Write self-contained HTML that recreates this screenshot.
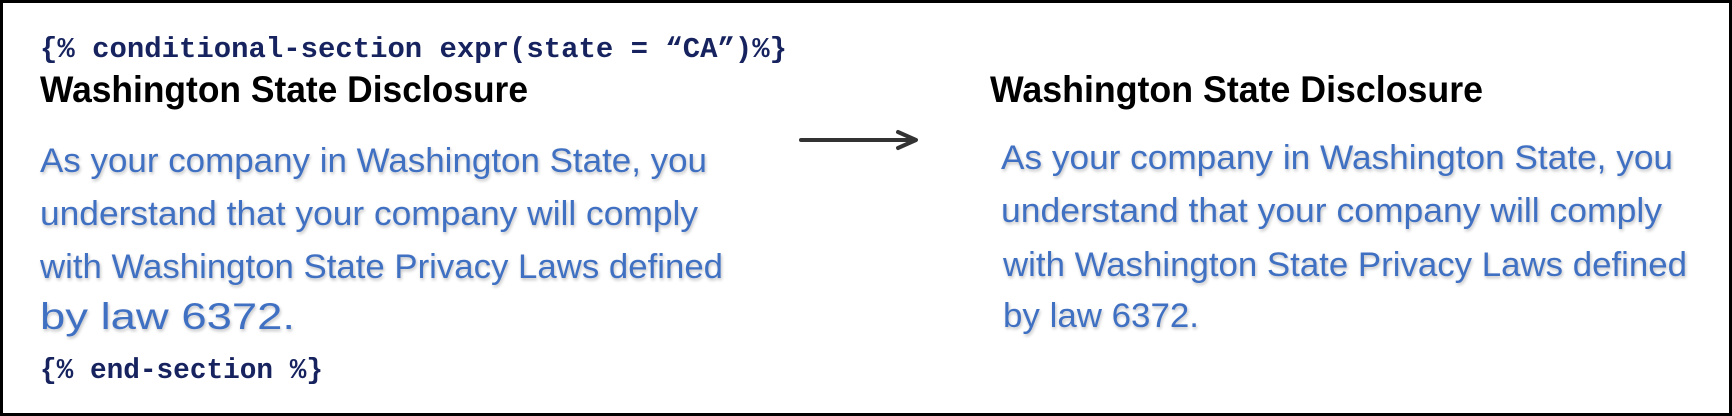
<!DOCTYPE html>
<html><head><meta charset="utf-8"><style>
html,body{margin:0;padding:0;background:#fff;}
svg{display:block;}
.code{font-family:"Liberation Mono",monospace;font-weight:bold;font-size:29px;fill:#16235e;}
.h{font-family:"Liberation Sans",sans-serif;font-weight:bold;font-size:37px;fill:#000;}
.b{font-family:"Liberation Sans",sans-serif;font-size:34px;fill:#4170C2;filter:url(#sh);}
</style></head><body>
<svg width="1732" height="416" viewBox="0 0 1732 416" xmlns="http://www.w3.org/2000/svg">
<defs><filter id="sh" x="-5%" y="-30%" width="110%" height="160%"><feGaussianBlur in="SourceAlpha" stdDeviation="1.5"/><feOffset dx="1" dy="2"/><feComponentTransfer><feFuncA type="linear" slope="0.25"/></feComponentTransfer><feMerge><feMergeNode/><feMergeNode in="SourceGraphic"/></feMerge></filter></defs>
<rect x="1.5" y="1.5" width="1729" height="413" fill="#fff" stroke="#000" stroke-width="3"/>
<text class="code" x="40" y="57" textLength="747" lengthAdjust="spacingAndGlyphs">{% conditional-section expr(state = “CA”)%}</text>
<text class="h" x="40" y="102" textLength="488" lengthAdjust="spacingAndGlyphs">Washington State Disclosure</text>
<text class="b" x="40" y="172" textLength="667" lengthAdjust="spacingAndGlyphs">As your company in Washington State, you</text>
<text class="b" x="40" y="225" textLength="658" lengthAdjust="spacingAndGlyphs">understand that your company will comply</text>
<text class="b" x="40" y="278" textLength="683" lengthAdjust="spacingAndGlyphs">with Washington State Privacy Laws defined</text>
<text class="b" x="40" y="329" style="font-size:37px" textLength="255" lengthAdjust="spacingAndGlyphs">by law 6372.</text>
<text class="code" x="40" y="378" textLength="283" lengthAdjust="spacingAndGlyphs">{% end-section %}</text>
<line x1="801" y1="140" x2="910" y2="140" stroke="#333" stroke-width="4" stroke-linecap="round"/>
<path d="M898 132 L916 140 L898 148" fill="none" stroke="#333" stroke-width="4" stroke-linecap="round" stroke-linejoin="round"/>
<text class="h" x="990" y="102" textLength="493" lengthAdjust="spacingAndGlyphs">Washington State Disclosure</text>
<text class="b" x="1001" y="169" textLength="672" lengthAdjust="spacingAndGlyphs">As your company in Washington State, you</text>
<text class="b" x="1001" y="222" textLength="661" lengthAdjust="spacingAndGlyphs">understand that your company will comply</text>
<text class="b" x="1003" y="276" textLength="684" lengthAdjust="spacingAndGlyphs">with Washington State Privacy Laws defined</text>
<text class="b" x="1003" y="327" textLength="196" lengthAdjust="spacingAndGlyphs">by law 6372.</text>
</svg>
</body></html>
